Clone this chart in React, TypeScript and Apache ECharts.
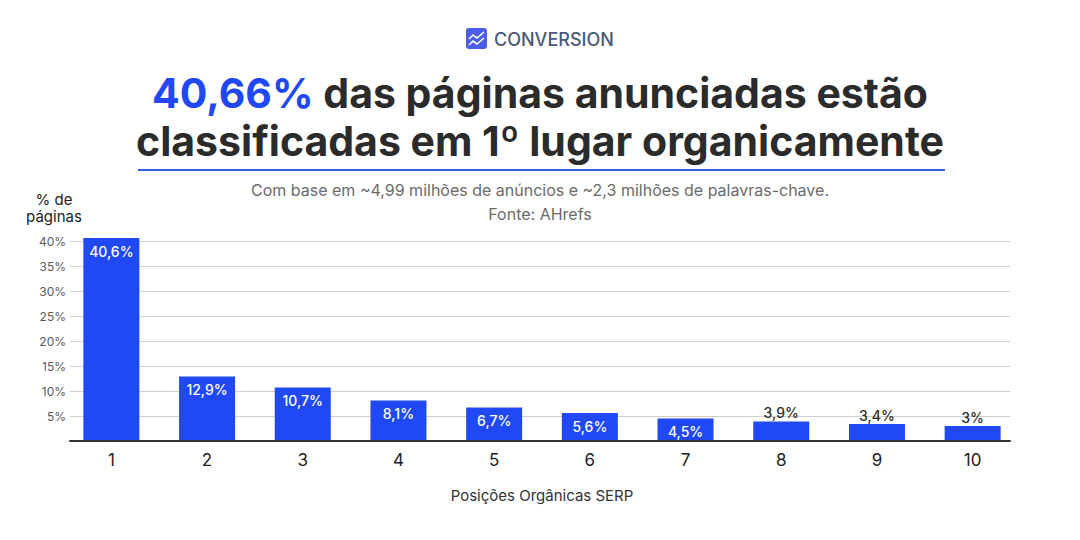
import React, { useEffect, useRef } from "react";
import * as echarts from "echarts";

const categories = ["1", "2", "3", "4", "5", "6", "7", "8", "9", "10"];
const values = [40.6, 12.9, 10.7, 8.1, 6.7, 5.6, 4.5, 3.9, 3.4, 3];
const yTicks = [0, 5, 10, 15, 20, 25, 30, 35, 40];

const BLUE = "#2148F5";
const FONT = "Inter, 'Noto Sans', sans-serif";

export default function App() {
  const ref = useRef<HTMLDivElement>(null);
  useEffect(() => {
    document.body.style.margin = "0";
    const chart = echarts.init(ref.current!, null, { renderer: "svg" });
    const fmt = (v: number) => String(v).replace(".", ",") + "%";
    const data = values.map((v) => ({
      value: v,
      label:
        v >= 4.5
          ? { show: true, position: "insideTop", distance: 6, color: "#ffffff" }
          : { show: true, position: "top", distance: 2, color: "#2b2b2b" },
    }));
    chart.setOption({
      animation: false,
      textStyle: { fontFamily: FONT },
      title: [
        {
          left: "center",
          top: 64,
          text:
            "{b|40,66%}{d| das páginas anunciadas estão}\n{d|classificadas em 1º lugar organicamente}",
          textStyle: {
            rich: {
              b: { fontFamily: FONT, fontSize: 41, fontWeight: 700, color: BLUE, lineHeight: 48 },
              d: { fontFamily: FONT, fontSize: 41, fontWeight: 700, color: "#2b2b2b", lineHeight: 48 },
            },
          },
        },
      ],
      graphic: [
        {
          type: "rect",
          shape: { x: 466, y: 28, width: 21, height: 21, r: 3 },
          style: { fill: "#4A5EEA" },
        },
        {
          type: "polyline",
          shape: { points: [[469, 39], [473, 35], [477, 38], [484, 32]] },
          style: { stroke: "#fff", lineWidth: 1.6, fill: null },
        },
        {
          type: "polyline",
          shape: { points: [[469, 45], [473, 41], [477, 44], [484, 38]] },
          style: { stroke: "#fff", lineWidth: 1.6, fill: null },
        },
        {
          type: "text",
          x: 494,
          y: 39,
          style: {
            text: "CONVERSION",
            fontFamily: FONT,
            fontSize: 18,
            fontWeight: 500,
            fill: "#4B5878",
            textVerticalAlign: "middle",
          },
        },
        {
          type: "line",
          shape: { x1: 138, y1: 170, x2: 945, y2: 170 },
          style: { stroke: "#2F5BF0", lineWidth: 2 },
        },
        {
          type: "text",
          x: 540,
          y: 190,
          style: {
            text: "Com base em ~4,99 milhões de anúncios e ~2,3 milhões de palavras-chave.",
            fontFamily: FONT,
            fontSize: 16,
            fill: "#6b6b6b",
            textAlign: "center",
            textVerticalAlign: "middle",
          },
        },
        {
          type: "text",
          x: 540,
          y: 214,
          style: {
            text: "Fonte: AHrefs",
            fontFamily: FONT,
            fontSize: 16,
            fill: "#6b6b6b",
            textAlign: "center",
            textVerticalAlign: "middle",
          },
        },
        {
          type: "text",
          x: 54,
          y: 208,
          style: {
            text: "% de\npáginas",
            fontFamily: FONT,
            fontSize: 15,
            lineHeight: 17,
            fill: "#222",
            textAlign: "center",
            textVerticalAlign: "middle",
          },
        },
      ],
      grid: [
        { left: 70, right: 70, top: 241, bottom: 99 },
        { left: 63.5, right: 59.5, top: 241, bottom: 99 },
      ],
      xAxis: [
        {
          type: "category",
          gridIndex: 0,
          data: categories,
          axisLine: { show: true, lineStyle: { color: "#333", width: 2 } },
          axisTick: { show: false },
          axisLabel: { show: false },
          z: 5,
        },
        {
          type: "category",
          gridIndex: 1,
          data: categories,
          axisLine: { show: false },
          axisTick: { show: false },
          axisLabel: { color: "#222", fontSize: 17, margin: 10, fontFamily: FONT },
          name: "Posições Orgânicas SERP",
          nameLocation: "middle",
          nameGap: 47,
          nameTextStyle: { color: "#333", fontSize: 15, fontFamily: FONT },
        },
      ],
      yAxis: [
        {
          type: "value",
          gridIndex: 0,
          min: yTicks[0],
          max: yTicks[yTicks.length - 1],
          interval: 5,
          axisLine: { show: false },
          axisTick: { show: false },
          axisLabel: {
            color: "#5a5a5a",
            fontSize: 12,
            margin: 4,
            fontFamily: FONT,
            formatter: (v: number) => (v === 0 ? "" : v + "%"),
          },
          splitLine: { lineStyle: { color: "#cfcfcf", width: 1 } },
        },
        {
          type: "value",
          gridIndex: 1,
          min: yTicks[0],
          max: yTicks[yTicks.length - 1],
          interval: 5,
          axisLine: { show: false },
          axisTick: { show: false },
          axisLabel: { show: false },
          splitLine: { show: false },
        },
      ],
      series: [
        {
          type: "bar",
          xAxisIndex: 1,
          yAxisIndex: 1,
          data,
          barWidth: 56,
          clip: false,
          itemStyle: { color: BLUE },
          label: {
            show: true,
            fontSize: 14,
            fontWeight: 500,
            fontFamily: FONT,
            formatter: (p: any) => fmt(p.value),
          },
          z: 3,
        },
      ],
    });
    return () => chart.dispose();
  }, []);
  return <div ref={ref} style={{ width: 1080, height: 540 }} />;
}
